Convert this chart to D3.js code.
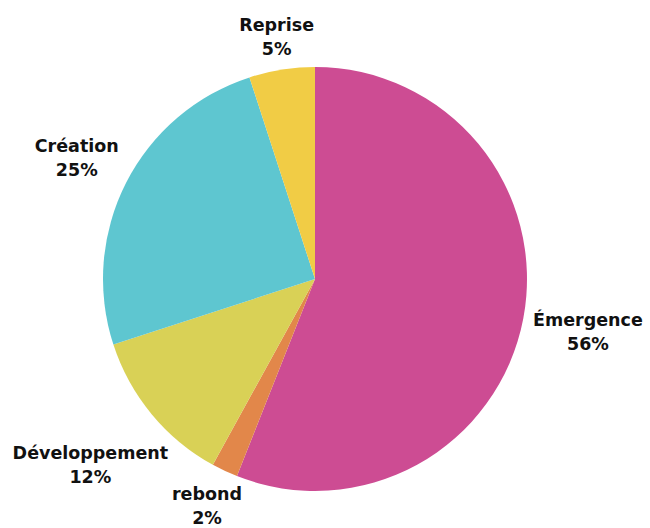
<!DOCTYPE html>
<html>
<head>
<meta charset="utf-8">
<script src="https://cdn.jsdelivr.net/npm/d3@7"></script>
<style>
  body { margin: 0; background: #fff; }
  svg text { font-family: "DejaVu Sans", sans-serif; font-weight: bold; fill: #111; }
</style>
</head>
<body>
<svg id="chart"></svg>
<script>
// slices clockwise from 12 o'clock
const categories = ["Émergence", "rebond", "Développement", "Création", "Reprise"];
const shares = [56, 2, 12, 25, 5];
const colors = ["#cd4c93", "#e2874a", "#d9d156", "#5ec6d0", "#f1cc45"];

const width = 650;
const height = 528;
const cx = 315;
const cy = 279;
const radius = 212;
const labelGap = 8;
const lineHeight = 24;

const data = categories.map((c, i) => ({ name: c, value: shares[i], color: colors[i] }));

const svg = d3.select("#chart").attr("width", width).attr("height", height);
const g = svg.append("g").attr("transform", "translate(" + cx + "," + cy + ")");

const pie = d3.pie().value(d => d.value).sort(null);
const arc = d3.arc().innerRadius(0).outerRadius(radius);
const arcs = pie(data);

g.selectAll("path.slice")
  .data(arcs)
  .enter().append("path")
  .attr("class", "slice")
  .attr("d", arc)
  .attr("fill", d => d.data.color);

// labels: push each text block outward along its mid-angle until
// the nearest point of its box sits labelGap outside the circle
const labels = g.selectAll("g.label")
  .data(arcs)
  .enter().append("g")
  .attr("class", "label");

labels.append("text")
  .attr("text-anchor", "middle")
  .style("font-size", "17.5px")
  .selectAll("tspan")
  .data(d => [d.data.name, d.data.value + "%"])
  .enter().append("tspan")
  .attr("x", 0)
  .attr("dy", (d, i) => i === 0 ? 0 : lineHeight)
  .text(d => d);

labels.each(function(d) {
  const box = this.getBBox();
  const hw = box.width / 2, hh = box.height / 2;
  const offX = box.x + hw, offY = box.y + hh; // box centre relative to group origin
  const a = (d.startAngle + d.endAngle) / 2;
  const ux = Math.sin(a), uy = -Math.cos(a);
  function gapAt(t) {
    const dx = Math.max(Math.abs(ux * t) - hw, 0);
    const dy = Math.max(Math.abs(uy * t) - hh, 0);
    return Math.sqrt(dx * dx + dy * dy);
  }
  let lo = 0, hi = 600;
  for (let k = 0; k < 40; k++) {
    const mid = (lo + hi) / 2;
    if (gapAt(mid) < radius + labelGap) lo = mid; else hi = mid;
  }
  const t = (lo + hi) / 2;
  let px = cx + ux * t, py = cy + uy * t;
  // keep the whole block inside the picture
  px = Math.max(hw + 2, Math.min(width - hw - 2, px));
  py = Math.max(hh, Math.min(height - hh, py));
  d3.select(this).attr("transform", "translate(" + (px - cx - offX) + "," + (py - cy - offY) + ")");
});
</script>
</body>
</html>
